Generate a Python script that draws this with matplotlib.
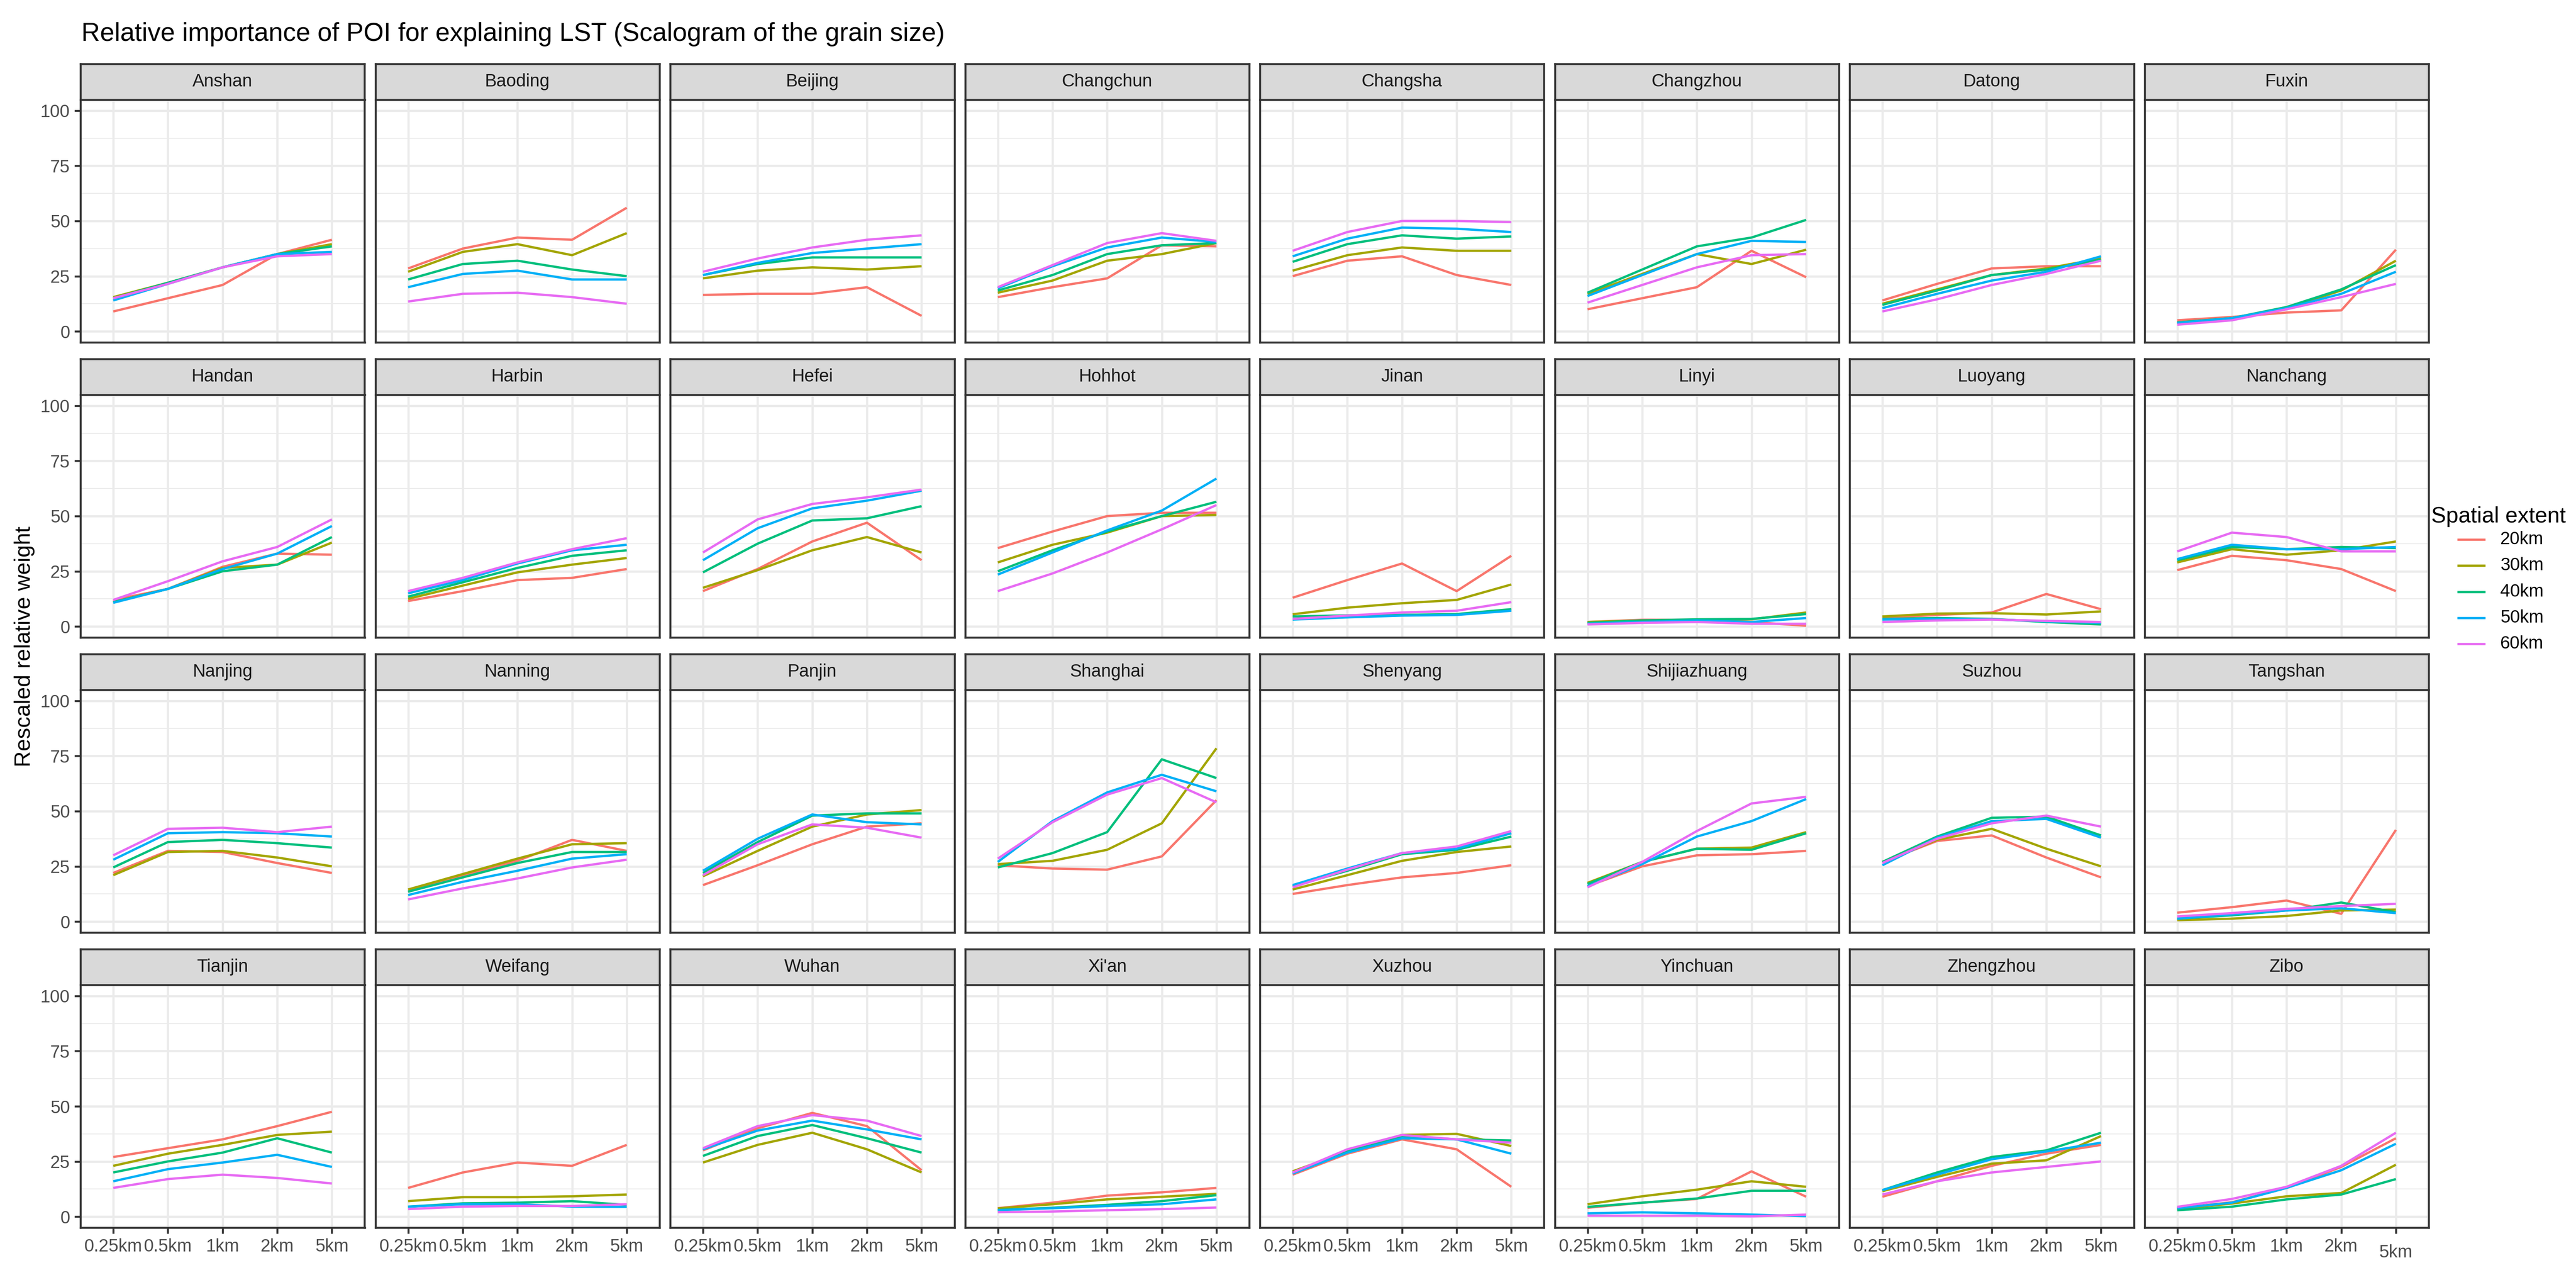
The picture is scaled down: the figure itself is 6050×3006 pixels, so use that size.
import matplotlib
matplotlib.use('Agg')
import matplotlib.pyplot as plt
from matplotlib.lines import Line2D

plt.rcParams['font.family'] = ['Liberation Sans', 'DejaVu Sans']

# Facets, x categories and legend levels
cities = ['Anshan', 'Baoding', 'Beijing', 'Changchun', 'Changsha', 'Changzhou', 'Datong', 'Fuxin',
          'Handan', 'Harbin', 'Hefei', 'Hohhot', 'Jinan', 'Linyi', 'Luoyang', 'Nanchang',
          'Nanjing', 'Nanning', 'Panjin', 'Shanghai', 'Shenyang', 'Shijiazhuang', 'Suzhou', 'Tangshan',
          'Tianjin', 'Weifang', 'Wuhan', "Xi'an", 'Xuzhou', 'Yinchuan', 'Zhengzhou', 'Zibo']
grain = ['0.25km', '0.5km', '1km', '2km', '5km']
extents = ['20km', '30km', '40km', '50km', '60km']
colors = ['#F8766D', '#A3A500', '#00BF7D', '#00B0F6', '#E76BF3']

# Rescaled relative weight, one row of 5 grain sizes per city
w20 = [[9, 15, 21, 35, 41.5], [28.5, 37.5, 42.5, 41.5, 56], [16.5, 17, 17, 20, 7], [15.5, 20, 24, 39, 38.5],
       [25, 32, 34, 25.5, 21], [10, 15, 20, 36.5, 24.5], [14, 21.5, 28.5, 29.5, 29.5], [5, 6.5, 8.5, 9.5, 37],
       [12, 17, 27, 33, 32.5], [11.5, 16, 21, 22, 26], [16, 26, 38.5, 47, 30], [35.5, 43, 50, 51.5, 51.5],
       [13, 21, 28.5, 16, 32], [2, 3, 3, 2, 0.3], [3.8, 5.2, 6.3, 14.7, 7.8], [25.5, 32, 30, 26, 16],
       [22, 32, 31.5, 26.5, 22], [13.5, 21, 27.5, 37, 32], [16.5, 25.5, 35, 43, 44.5], [25.5, 24, 23.5, 29.5, 55],
       [12.5, 16.5, 20, 22, 25.5], [16, 25, 30, 30.5, 32], [27, 36.5, 39, 29, 20], [4, 6.5, 9.5, 3.5, 41.5],
       [27, 31, 35, 41, 47.5], [13, 20, 24.5, 23, 32.5], [30, 40, 47, 41, 21], [3.8, 6.3, 9.5, 11, 13],
       [19, 28.5, 35, 30.5, 13.5], [4, 6.3, 8, 20.5, 9], [9, 16, 23, 28.5, 32.5], [3.8, 6.5, 13, 22.5, 35.5]]
w30 = [[15.5, 22, 29, 35, 39.5], [27, 36, 39.5, 34.5, 44.5], [24, 27.5, 29, 28, 29.5], [17.5, 23, 32, 35, 40],
       [27.5, 34.5, 38, 36.5, 36.5], [17, 26, 35, 30.5, 37], [12.5, 19, 25.5, 28.5, 33], [4, 6, 10.5, 18.5, 32],
       [11, 17, 26.5, 28, 38], [12.5, 18.5, 24.5, 28, 31], [17.5, 25.5, 34.5, 40.5, 33.5], [29, 37, 42.5, 50, 50.5],
       [5.5, 8.5, 10.5, 12, 19], [2, 2.7, 3, 3.2, 6.3], [4.5, 5.8, 6, 5.4, 6.8], [29, 35, 32.5, 34.5, 38.5],
       [21, 31.5, 32, 29, 25], [14.5, 21.5, 28.5, 35, 35.5], [20.5, 32, 43, 48.5, 50.5], [26, 27.5, 32.5, 44.5, 78.5],
       [14.5, 21, 27.5, 31.5, 34], [17.5, 27, 33, 33.5, 40.5], [27, 37, 42, 33, 25], [0.6, 1.3, 2.5, 5, 5.4],
       [23, 28.5, 32.5, 37, 38.5], [7, 8.8, 8.8, 9.2, 10], [24.5, 32.5, 38, 30.5, 20], [3.7, 5.6, 7.8, 9, 10.3],
       [20.5, 29.5, 37, 37.5, 32], [5.6, 9.2, 12.2, 16, 13.5], [11.5, 18, 24, 25.5, 36.5], [3.4, 5.9, 9.2, 10.7, 23.5]]
w40 = [[15, 22, 29, 35, 38.5], [23.5, 30.5, 32, 28, 25], [25.5, 30.5, 33.5, 33.5, 33.5], [18.5, 25.5, 35, 39, 40],
       [31.5, 39.5, 43.5, 42, 43], [17.5, 28, 38.5, 42.5, 50.5], [12, 18.5, 25.5, 28, 32.5], [4, 6, 11, 19, 30],
       [11, 17, 25, 28, 40.5], [13.5, 20, 26.5, 32, 34.5], [24.5, 37.5, 48, 49, 54.5], [25, 34.5, 43, 50, 56.5],
       [4.5, 5, 5.2, 5.6, 7.8], [1.6, 2.7, 3.2, 3.4, 5.6], [3.4, 3.8, 3.4, 2, 0.9], [30, 36, 35, 36, 35.5],
       [24.5, 36, 37, 35.5, 33.5], [13.5, 20, 26.5, 31.5, 31.5], [22, 36, 48, 49, 49], [24.5, 31, 40.5, 73.5, 65],
       [16, 23, 30.5, 32.5, 38.5], [17, 27, 33, 32.5, 40], [27, 38.5, 47, 47.5, 39], [1.3, 2.8, 5, 8.6, 4.2],
       [20, 25, 29, 35.5, 29], [4.5, 6, 6.3, 7, 5.3], [27.5, 36.5, 41.5, 35.5, 29], [3, 4, 5.3, 7, 9.7],
       [20, 29.5, 36.5, 35, 34.5], [4.4, 6.3, 8.2, 11.7, 11.7], [12, 20, 27, 30, 38], [2.9, 4.5, 7.8, 10, 17]]
w50 = [[14, 21.5, 29, 35, 36], [20, 26, 27.5, 23.5, 23.5], [25.5, 31, 35.5, 37.5, 39.5], [19.5, 29.5, 38, 42.5, 40.5],
       [34, 42, 47, 46.5, 45], [16, 25.5, 35, 41, 40.5], [10.5, 17, 23, 27, 34], [3.8, 6, 10.5, 17, 27],
       [10.7, 17, 26, 33, 45.5], [15, 21, 28.5, 34.5, 37], [30, 44.5, 53.5, 57, 61.5], [23.5, 33.5, 43.5, 52.5, 67],
       [3.1, 4.1, 4.9, 5.2, 7.1], [1.2, 2, 2.7, 2, 3.8], [3.1, 3.4, 3.2, 2.3, 1.6], [30.5, 37, 35, 35, 36],
       [28, 40, 40.5, 40, 38.5], [12, 18, 23, 28.5, 30.5], [23, 37.5, 48.5, 45, 44], [27, 45.5, 58.5, 66.5, 59],
       [16.5, 24, 31, 33, 40], [16, 26, 38.5, 45.5, 55.5], [25.5, 38, 45.5, 46.5, 38], [1.3, 3.2, 5, 6, 3.8],
       [16, 21.5, 24.5, 28, 22.5], [4.5, 5.6, 5.6, 4.5, 4.4], [30.5, 39, 43.5, 39.5, 35], [2.9, 3.8, 4.8, 5.6, 7.8],
       [19.5, 29, 35.5, 35, 28.5], [1.5, 1.9, 1.5, 0.9, 0.2], [12, 19, 26, 29.5, 33.5], [3.8, 6.3, 13, 21, 33]]
w60 = [[15, 21.5, 29, 34, 35], [13.5, 17, 17.5, 15.5, 12.5], [27, 33, 38, 41.5, 43.5], [20, 30, 40, 44.5, 41],
       [36.5, 45, 50, 50, 49.5], [13, 21, 29, 34.5, 35], [9, 14.5, 21, 26, 32], [3, 5, 10, 15.5, 21.5],
       [12, 20.5, 29.5, 36, 48.5], [16, 22, 29, 35, 40], [33.5, 48.5, 55.5, 58.5, 62], [16, 24, 33.5, 44, 55],
       [3.4, 4.9, 6.3, 7.1, 11], [0.9, 1.6, 2, 1.2, 1.2], [2, 2.7, 3.1, 2.5, 2], [34, 42.5, 40.5, 34, 34],
       [30, 42, 42.5, 40.5, 43], [10, 15, 19.5, 24.5, 28], [21, 35, 44, 42.5, 38], [28.5, 45, 57.5, 65, 54],
       [15.5, 23.5, 31, 34, 41], [15.5, 27, 41, 53.5, 56.5], [26.5, 37.5, 44.5, 48, 43], [2.3, 3.8, 5.7, 7, 8],
       [13, 17, 19, 17.5, 15], [3.4, 4.5, 4.8, 4.8, 5.6], [31, 41, 46, 43.5, 36.5], [2, 2.3, 2.9, 3.4, 4.1],
       [20, 30.5, 37, 35, 33.5], [0.4, 0.4, 0.4, 0.1, 0.9], [10, 16, 20, 22.5, 25], [4.4, 8, 13.5, 23, 38]]
series = [w20, w30, w40, w50, w60]

# Canvas layout in pixels (ggplot facet_wrap look)
W, H = 6050, 3006
fig = plt.figure(figsize=(W / 300, H / 300), dpi=300)
fig.patch.set_facecolor('white')

left0, col_step, pw = 189, 692.5, 667.5
top0, row_step, strip_h, ph = 150, 693, 84, 570
x = list(range(1, len(grain) + 1))
small = 10

for i, city in enumerate(cities):
    r, c = divmod(i, 8)
    left = left0 + c * col_step
    top = top0 + r * row_step

    ax = fig.add_axes([left / W, 1 - (top + strip_h + ph) / H, pw / W, ph / H])
    ax.set_facecolor('white')
    ax.set_xlim(0.4, 5.6)
    ax.set_ylim(-5, 105)
    ax.set_xticks(x)
    ax.set_xticklabels(grain)
    ax.set_yticks([0, 25, 50, 75, 100])
    ax.set_yticks([12.5, 37.5, 62.5, 87.5], minor=True)
    ax.grid(which='major', color='#EBEBEB', lw=1.25)
    ax.grid(which='minor', axis='y', color='#EBEBEB', lw=0.5)
    ax.set_axisbelow(True)
    for s in ax.spines.values():
        s.set_color('#333333')
        s.set_linewidth(1.1)
    ax.tick_params(which='major', length=3.3, width=1.1, color='#333333',
                   labelsize=small, labelcolor='#4D4D4D', pad=2.6)
    ax.tick_params(which='minor', length=0)
    if c != 0:
        ax.tick_params(left=False, labelleft=False)
    if r != 3:
        ax.tick_params(bottom=False, labelbottom=False)

    for k, vals in enumerate(series):
        ax.plot(x, vals[i], color=colors[k], lw=1.3, solid_capstyle='butt', solid_joinstyle='round')

    if city == 'Zibo':
        t = ax.xaxis.get_major_ticks()[4]
        t.tick1line.set_markersize(6.5)
        t.set_pad(6)

    strip = fig.add_axes([left / W, 1 - (top + strip_h) / H, pw / W, strip_h / H])
    strip.set_facecolor('#D9D9D9')
    strip.set_xticks([])
    strip.set_yticks([])
    for s in strip.spines.values():
        s.set_color('#333333')
        s.set_linewidth(1.1)
    strip.text(0.5, 0.5, city, ha='center', va='center', fontsize=small, color='#1A1A1A',
               transform=strip.transAxes)

fig.text(191 / W, 1 - 96 / H, 'Relative importance of POI for explaining LST (Scalogram of the grain size)',
         fontsize=14.6, ha='left', va='baseline', color='black')
fig.text(58 / W, 1 - 1518 / H, 'Rescaled relative weight', fontsize=12.5, rotation=90,
         ha='center', va='center', color='black')

# Legend
fig.text(5710 / W, 1 - 1213 / H, 'Spatial extent', fontsize=12.5, ha='left', va='center')
for k, lab in enumerate(extents):
    yy = 1 - (1267 + k * 61.3) / H
    fig.add_artist(Line2D([5771 / W, 5837 / W], [yy, yy], color=colors[k], lw=1.3,
                          solid_capstyle='butt'))
    fig.text(5872 / W, yy, lab, fontsize=small, ha='left', va='center')

fig.savefig('out.png', dpi=300, facecolor='white')
